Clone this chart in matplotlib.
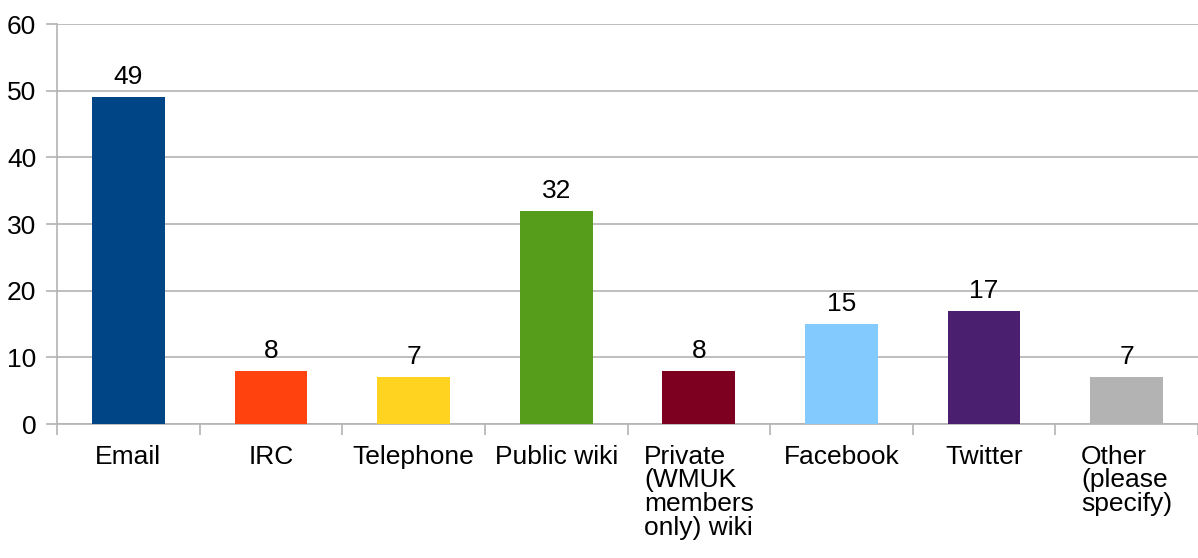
import matplotlib.pyplot as plt
import numpy as np

categories = ["Email", "IRC", "Telephone", "Public wiki",
              "Private\n(WMUK\nmembers\nonly) wiki", "Facebook", "Twitter",
              "Other\n(please\nspecify)"]
counts = [49, 8, 7, 32, 8, 15, 17, 7]
colors = ["#004586", "#ff420e", "#ffd320", "#579d1c",
          "#7e0021", "#83caff", "#4b1f6f", "#b3b3b3"]

plt.rcParams['font.family'] = ['Liberation Sans', 'DejaVu Sans']
grid_col = "#b3b3b3"
fs = 19

fig = plt.figure(figsize=(11.98, 5.58), dpi=100)
ax = fig.add_axes([57 / 1198, 134 / 558, 1 - 57 / 1198, 400 / 558])

x = np.arange(len(categories))
bars = ax.bar(x, counts, width=0.51, color=colors, zorder=3)
for b, v in zip(bars, counts):
    ax.text(b.get_x() + b.get_width() / 2, v + 1.2, str(v),
            ha="center", va="bottom", fontsize=fs, zorder=4)

ax.set_xlim(-0.5, len(categories) - 0.5)
ax.set_ylim(0, 60)
ax.set_yticks(range(0, 61, 10))
ax.yaxis.grid(True, color=grid_col, linewidth=1.2, zorder=0)

ax.set_xticks(x)
ax.set_xticklabels(categories, fontsize=fs, linespacing=0.98, va="top",
                   multialignment="left")
ax.set_xticks(np.arange(-0.5, len(categories), 1.0), minor=True)
ax.tick_params(axis="x", which="major", length=0, pad=15)
ax.tick_params(axis="x", which="minor", length=8, width=1.2, color=grid_col)
ax.tick_params(axis="y", length=8, width=1.2, color=grid_col, labelsize=fs, pad=7)

for side in ["top", "right"]:
    ax.spines[side].set_visible(False)
for side in ["left", "bottom"]:
    ax.spines[side].set_color(grid_col)
    ax.spines[side].set_linewidth(1.2)

fig.savefig("out.png", dpi=100)
